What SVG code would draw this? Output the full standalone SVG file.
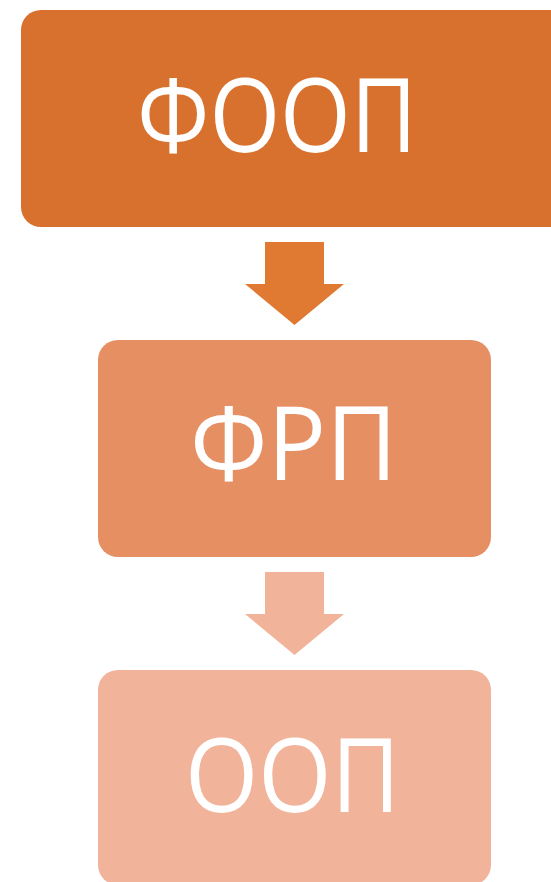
<svg xmlns="http://www.w3.org/2000/svg" width="551" height="882" viewBox="0 0 551 882">
<style>
.lbl{font-family:"Open Sans","Noto Sans","DejaVu Sans",sans-serif;font-size:103px;fill:#fff;text-anchor:middle}
</style>
<rect width="551" height="882" fill="#fff"/>
<g id="node-fooop">
<rect x="21" y="10" width="560" height="217" rx="20" fill="#D9712E"/>
<text class="lbl" x="277" y="152" textLength="280" lengthAdjust="spacingAndGlyphs">ФООП</text>
</g>
<g id="node-frp">
<rect x="98" y="340" width="393" height="217" rx="20" fill="#E68F63"/>
<text class="lbl" x="293.5" y="480" textLength="207" lengthAdjust="spacingAndGlyphs">ФРП</text>
</g>
<g id="node-oop">
<rect x="98" y="670" width="393" height="215" rx="20" fill="#F2B39B"/>
<text class="lbl" x="292.5" y="812" textLength="215" lengthAdjust="spacingAndGlyphs">ООП</text>
</g>
<g id="connectors">
<polygon points="265,242 324,242 324,284 344,284 294.5,325 245,284 265,284" fill="#E07A33"/>
<polygon points="265,572 324,572 324,614 344,614 294.5,655 245,614 265,614" fill="#F2B39B"/>
</g>
</svg>
